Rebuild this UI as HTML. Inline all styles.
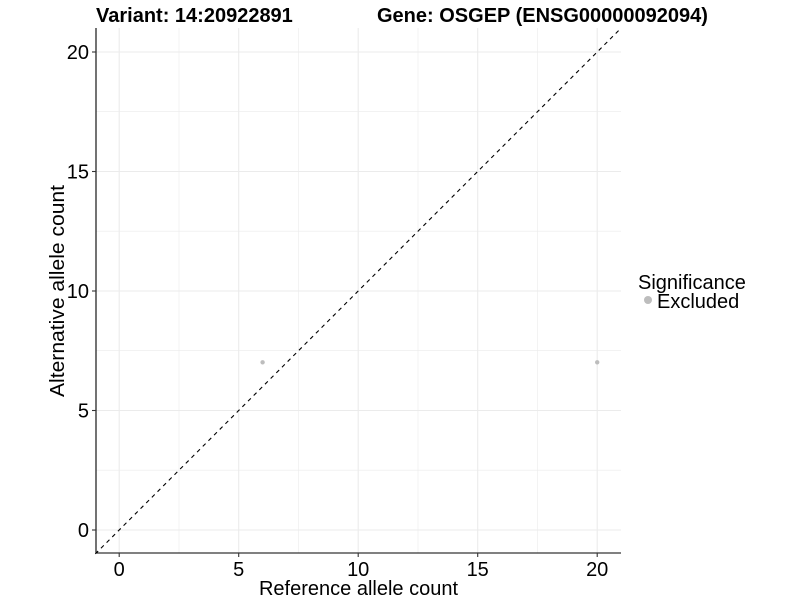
<!DOCTYPE html>
<html><head><meta charset="utf-8"><style>body{margin:0;background:#fff}svg{display:block}</style></head><body>
<svg width="800" height="600" xmlns="http://www.w3.org/2000/svg" font-family="Liberation Sans, Arial, sans-serif">
<rect width="800" height="600" fill="#fff"/>
<g stroke="#ebebeb" stroke-width="0.6">
<line x1="179" y1="28" x2="179" y2="553"/><line x1="298.5" y1="28" x2="298.5" y2="553"/><line x1="418" y1="28" x2="418" y2="553"/><line x1="537.5" y1="28" x2="537.5" y2="553"/>
<line x1="96" y1="470.2" x2="621" y2="470.2"/><line x1="96" y1="350.7" x2="621" y2="350.7"/><line x1="96" y1="231.2" x2="621" y2="231.2"/><line x1="96" y1="111.7" x2="621" y2="111.7"/>
</g>
<g stroke="#ebebeb" stroke-width="1.1">
<line x1="119.2" y1="28" x2="119.2" y2="553"/><line x1="238.7" y1="28" x2="238.7" y2="553"/><line x1="358.2" y1="28" x2="358.2" y2="553"/><line x1="477.7" y1="28" x2="477.7" y2="553"/><line x1="597.2" y1="28" x2="597.2" y2="553"/>
<line x1="96" y1="530" x2="621" y2="530"/><line x1="96" y1="410.5" x2="621" y2="410.5"/><line x1="96" y1="291" x2="621" y2="291"/><line x1="96" y1="171.5" x2="621" y2="171.5"/><line x1="96" y1="52" x2="621" y2="52"/>
</g>
<line x1="95.3" y1="553.9" x2="621" y2="28.2" stroke="#000" stroke-width="1.1" stroke-dasharray="4,4"/>
<circle cx="262.6" cy="362.3" r="2.2" fill="#bdbdbd"/>
<circle cx="597.2" cy="362.3" r="2.2" fill="#bdbdbd"/>
<line x1="96" y1="28" x2="96" y2="553" stroke="#000" stroke-width="1.1"/>
<line x1="96" y1="553" x2="621" y2="553" stroke="#000" stroke-width="1.1"/>
<g stroke="#333" stroke-width="1.1">
<line x1="119.2" y1="553" x2="119.2" y2="557"/><line x1="238.7" y1="553" x2="238.7" y2="557"/><line x1="358.2" y1="553" x2="358.2" y2="557"/><line x1="477.7" y1="553" x2="477.7" y2="557"/><line x1="597.2" y1="553" x2="597.2" y2="557"/>
<line x1="92" y1="530" x2="96" y2="530"/><line x1="92" y1="410.5" x2="96" y2="410.5"/><line x1="92" y1="291" x2="96" y2="291"/><line x1="92" y1="171.5" x2="96" y2="171.5"/><line x1="92" y1="52" x2="96" y2="52"/>
</g>
<g font-size="20" fill="#000" text-anchor="middle">
<text x="119.2" y="576">0</text><text x="238.7" y="576">5</text><text x="358.2" y="576">10</text><text x="477.7" y="576">15</text><text x="597.2" y="576">20</text>
</g>
<g font-size="20" fill="#000" text-anchor="end">
<text x="89" y="537">0</text><text x="89" y="417.5">5</text><text x="89" y="298">10</text><text x="89" y="178.5">15</text><text x="89" y="59">20</text>
</g>
<text x="358.5" y="595" font-size="20" text-anchor="middle">Reference allele count</text>
<text transform="translate(64,291) rotate(-90)" font-size="20" text-anchor="middle" textLength="212" lengthAdjust="spacingAndGlyphs">Alternative allele count</text>
<text x="96" y="22" font-size="20" font-weight="bold">Variant: 14:20922891</text>
<text x="377" y="22" font-size="20" font-weight="bold">Gene: OSGEP (ENSG00000092094)</text>
<text x="638" y="289" font-size="20">Significance</text>
<circle cx="648" cy="300" r="4" fill="#bdbdbd"/>
<text x="657" y="308" font-size="20">Excluded</text>
</svg>
</body></html>
